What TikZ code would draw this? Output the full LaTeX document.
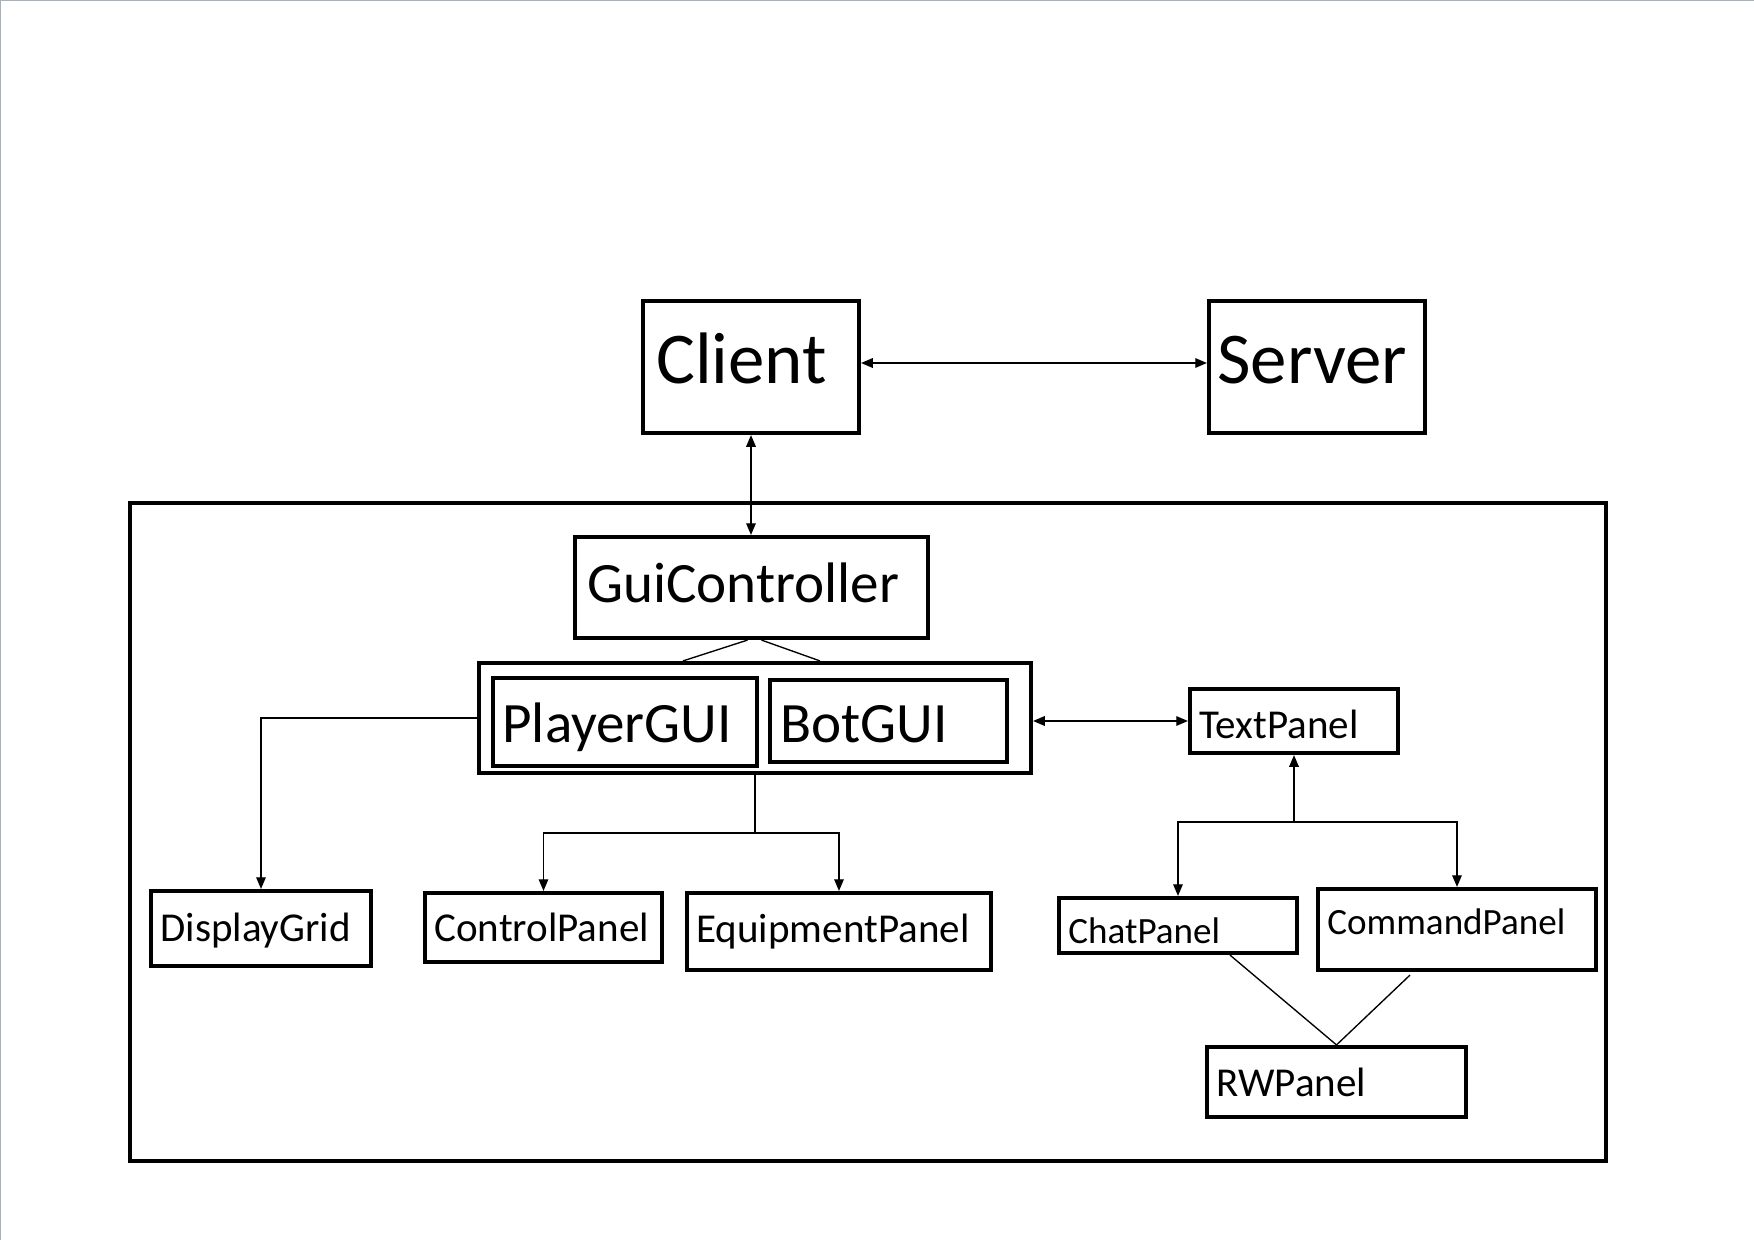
\documentclass[tikz,border=0pt]{standalone}
\usepackage{fontspec}
\setmainfont{Carlito}
\usetikzlibrary{arrows.meta,fit,calc}
\definecolor{edgegray}{HTML}{A7B1BB}
\tikzset{
  x=0.48pt, y=-0.48pt,
  box/.style={draw, line width=2pt, inner sep=0pt},
  lbl/.style={inner sep=0pt, anchor=base west},
  big/.style={font=\fontsize{35}{42}\selectfont},
  mid/.style={font=\fontsize{27.4}{33}\selectfont},
  sml/.style={font=\fontsize{19.7}{24}\selectfont},
  xsml/.style={font=\fontsize{17.8}{21}\selectfont},
  conn/.style={line width=0.65pt},
  >={Triangle[length=5.6pt,width=4.6pt]},
}
\begin{document}
\begin{tikzpicture}
\useasboundingbox (0,0) rectangle (1754,1240);
\fill[white] (0,0) rectangle (1754,1240);
\draw[edgegray, line width=0.7pt] (0.7,1240) -- (0.7,0.7) -- (1754,0.7);

% outer container
\node[box, fit={(130,503) (1606,1161)}] (outer) {};

% top nodes
\node[box, fit={(643,301) (859,433)}] (client) {};
\node[lbl, big] (clientl) at (656,383) {Client};
\node[box, fit={(1209,301) (1425,433)}] (server) {};
\node[lbl, big] (serverl) at (1217,383) {Server};

% GUI controller
\node[box, fit={(575,537) (928,638)}] (gui) {};
\node[lbl, mid] (guil) at (587,602) {GuiController};

% group with PlayerGUI and BotGUI
\node[box, fit={(479,663) (1031,773)}] (grp) {};
\node[box, fit={(493,678) (757,766)}] (player) {};
\node[lbl, mid] (playerl) at (502,742) {PlayerGUI};
\node[box, fit={(770,680) (1007,762)}] (bot) {};
\node[lbl, mid] (botl) at (780,742) {BotGUI};

% lower left nodes
\node[box, fit={(151,891) (371,966)}] (disp) {};
\node[lbl, sml] (displ) at (160,941) {DisplayGrid};
\node[box, fit={(425,893) (662,962)}] (ctrl) {};
\node[lbl, sml] (ctrll) at (434,941) {ControlPanel};
\node[box, fit={(687,893) (991,970)}] (equip) {};
\node[lbl, sml] (equipl) at (696,942) {EquipmentPanel};

% right nodes
\node[box, fit={(1190,689) (1398,753)}] (text) {};
\node[lbl, sml] (textl) at (1199,738) {TextPanel};
\node[box, fit={(1059,898) (1297,953)}] (chat) {};
\node[lbl, xsml] (chatl) at (1068,943) {ChatPanel};
\node[box, fit={(1318,889) (1596,970)}] (cmd) {};
\node[lbl, xsml] (cmdl) at (1327,934) {CommandPanel};
\node[box, fit={(1207,1047) (1466,1117)}] (rw) {};
\node[lbl, sml] (rwl) at (1216,1096) {RWPanel};

% junction coordinates
\coordinate (jgrp) at (755,833);
\coordinate (jtext) at (1294,822);
\coordinate (yconn) at (0,363);

% connectors
\draw[conn, <->] (client.east |- yconn) -- (server.west |- yconn);
\draw[conn, <->] (client.south) -- (client.south |- gui.north);
\draw[conn] ($(gui.south)+(-4,0)$) -- ($(grp.north)+(-72,0)$);
\draw[conn] ($(gui.south)+(10,0)$) -- ($(grp.north)+(65,0)$);
\draw[conn, ->] (grp.west) -| (disp.north);
\draw[conn] (grp.south) -- (jgrp);
\draw[conn, ->] (jgrp) -| (ctrl.north);
\draw[conn, ->] (jgrp) -| (equip.north);
\draw[conn, <->] (grp.east |- text.west) -- (text.west);
\draw[conn, ->] (jtext) -- (text.south);
\draw[conn, ->] (jtext) -| (chat.north);
\draw[conn, ->] (jtext) -| (cmd.north);
\draw[conn] ($(chat.south)+(52,0)$) -- (rw.north);
\draw[conn] ($(cmd.south)+(-47,3)$) -- (rw.north);
\end{tikzpicture}
\end{document}
